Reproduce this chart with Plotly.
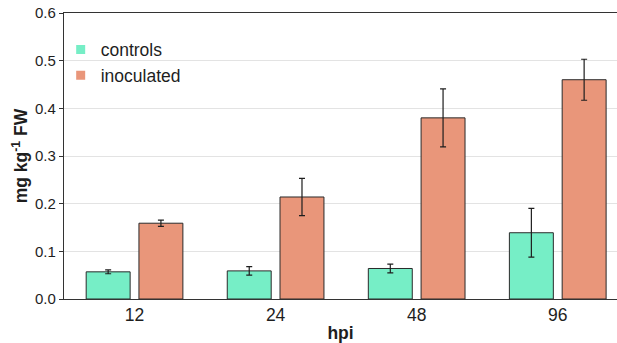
import plotly.graph_objects as go

categories = ["12", "24", "48", "96"]
controls = [0.057, 0.059, 0.064, 0.139]
controls_err = [0.004, 0.009, 0.009, 0.051]
inoculated = [0.159, 0.214, 0.380, 0.460]
inoculated_err = [0.0065, 0.039, 0.061, 0.043]
y_ticks = [0.0, 0.1, 0.2, 0.3, 0.4, 0.5, 0.6]

c_ctrl = "#76EEC6"
c_inoc = "#E9967A"
dark = "#1e1e1e"
font = "Liberation Sans, Arial, sans-serif"

fig = go.Figure()
fig.add_trace(go.Bar(
    x=categories, y=controls, name="controls", showlegend=False,
    marker=dict(color=c_ctrl, line=dict(color="#2a2a2a", width=1)),
    error_y=dict(type="data", array=controls_err, color=dark, thickness=1.2, width=3),
))
fig.add_trace(go.Bar(
    x=categories, y=inoculated, name="inoculated", showlegend=False,
    marker=dict(color=c_inoc, line=dict(color="#2a2a2a", width=1)),
    error_y=dict(type="data", array=inoculated_err, color=dark, thickness=1.2, width=3),
))
# legend entries (square keys without outline)
for nm, col in [("controls", c_ctrl), ("inoculated", c_inoc)]:
    fig.add_trace(go.Scatter(
        x=[None], y=[None], mode="markers", name=nm,
        marker=dict(symbol="square", size=9, color=col, line=dict(width=0)),
    ))

fig.update_layout(
    width=617, height=343,
    margin=dict(l=64, r=0, t=13, b=44),
    paper_bgcolor="white", plot_bgcolor="white",
    barmode="group", bargap=0.252, bargroupgap=0.167,
    font=dict(family=font, color=dark),
    legend=dict(
        x=-0.006, y=0.935, xanchor="left", yanchor="top",
        bgcolor="rgba(0,0,0,0)", font=dict(size=17.5, color=dark),
        itemwidth=30, tracegroupgap=0,
    ),
)
fig.update_xaxes(
    type="category", range=[-0.5, 3.42],
    showline=True, linecolor="#333333", linewidth=1.2, mirror=True,
    ticks="", showgrid=False,
    tickfont=dict(size=17.5, color=dark),
    title=dict(text="<b>hpi</b>", font=dict(size=17.5, color=dark), standoff=2),
)
fig.update_yaxes(
    range=[0, 0.6], tickvals=y_ticks, tickformat=".1f",
    showline=True, linecolor="#333333", linewidth=1.2,
    ticks="outside", ticklen=4, tickcolor="#333333",
    showgrid=True, gridcolor="#e3e3e3", gridwidth=1, zeroline=False,
    tickfont=dict(size=15, color=dark),
    title=dict(text="<b>mg kg<sup>-1</sup> FW</b>", font=dict(size=17.5, color=dark), standoff=2),
)

fig.write_html("out.html")
